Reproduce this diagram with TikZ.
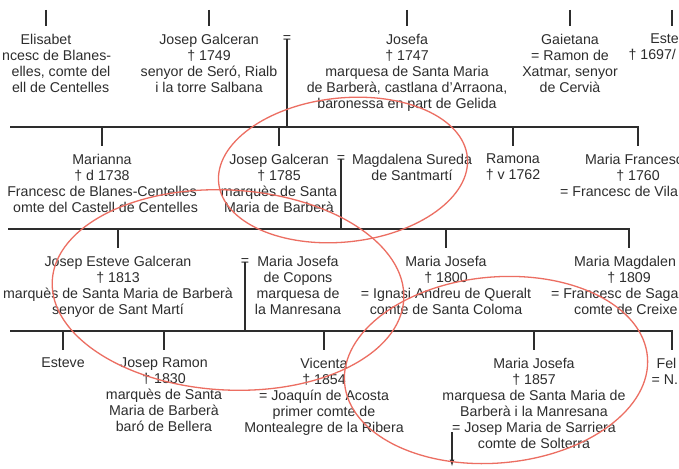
\documentclass[tikz,border=0pt]{standalone}
\usepackage{fontspec}
\setmainfont{Liberation Sans}
\definecolor{ink}{RGB}{45,45,45}
\definecolor{ringred}{RGB}{236,110,98}
\tikzset{
    x=1pt, y=-1pt, % pixel grid of the scan, y runs downwards
    person/.style={align=center, anchor=north, inner sep=0pt, text=ink, font=\fontsize{14.2}{16}\selectfont}, % one entry of the tree
    marr/.style={inner sep=0pt, outer sep=0pt, text=ink, font=\fontsize{14.2}{16}\selectfont}, % the = of a marriage
    line/.style={draw=ink, line width=1.2pt},
    tick/.style={line, shorten >=8pt}, % drop from a row line to a child
    wed/.style={line, shorten <=-3pt}, % line hanging from a marriage sign
    ring/.style={draw=ringred, line width=1.3pt}, % red marks drawn over the page
    }

\begin{document}
\begin{tikzpicture}
    \path[fill=white, use as bounding box] (0,0) rectangle (679,468);

    % row lines
    \coordinate (l1) at (0,10);
    \coordinate (l2) at (10,127);
    \coordinate (l3) at (8,229);
    \coordinate (l4) at (10,331);

    % first row
    \node[person] (elisabet) at (46,34) {Elisabet\\\phantom{Fra}ncesc de Blanes-\\\phantom{Cent}elles, comte del\\\phantom{Cast}ell de Centelles};
    \node[person] (josepA) at (209,34) {Josep Galceran\\† 1749\\senyor de Seró, Rialb\\i la torre Salbana};
    \node[marr] (marrA) at (287,39) {=};
    \node[person] (josefa) at (407,34) {Josefa\\† 1747\\marquesa de Santa Maria\\de Barberà, castlana d’Arraona,\\baronessa en part de Gelida};
    \node[person] (gaietana) at (570,34) {Gaietana\\= Ramon de\\Xatmar, senyor\\de Cervià};
    \node[person] (esteveA) at (672,34) {Este\phantom{ve}\\† 1697/\phantom{17000}};

    \draw[tick] (elisabet |- l1) -- (elisabet);
    \draw[tick] (josepA |- l1) -- (josepA);
    \draw[tick] (josefa |- l1) -- (josefa);
    \draw[tick] (gaietana |- l1) -- (gaietana);
    \draw[tick] (esteveA |- l1) -- (esteveA);

    % second row
    \node[person] (marianna) at (102,154) {Marianna\\† d 1738\\Francesc de Blanes-Centelles\\\phantom{c}omte del Castell de Centelles};
    \node[person] (josepB) at (279,154) {Josep Galceran\\† 1785\\marquès de Santa\\Maria de Barberà};
    \node[marr] (marrB) at (341,159) {=};
    \node[person] (magdalena) at (412,154) {Magdalena Sureda\\de Santmartí};
    \node[person] (ramona) at (513,154) {Ramona\\† v 1762};
    \node[person] (francesca) at (638,154) {Maria Francesc\phantom{a}\\† 1760\\= Francesc de Vila\phantom{llonga}};

    \draw[wed] (marrA) -- (marrA |- l2);
    \draw[tick] (l2) -| (francesca);
    \draw[tick] (marianna |- l2) -- (marianna);
    \draw[tick] (josepB |- l2) -- (josepB);
    \draw[tick] (ramona |- l2) -- (ramona);

    % third row
    \node[person] (josepC) at (118,256) {Josep Esteve Galceran\\† 1813\\marquès de Santa Maria de Barberà\\senyor de Sant Martí};
    \node[marr] (marrC) at (245,262) {=};
    \node[person] (copons) at (298,256) {Maria Josefa\\de Copons\\marquesa de\\la Manresana};
    \node[person] (josefaC) at (446,256) {Maria Josefa\\† 1800\\= Ignasi Andreu de Queralt\\comte de Santa Coloma};
    \node[person] (magdalenaC) at (629,256) {Maria Magdalen\phantom{a}\\† 1809\\= Francesc de Saga\phantom{rriga}\\comte de Creixe\phantom{ll}};

    \draw[wed] (marrB) -- (marrB |- l3);
    \draw[tick] (l3) -| (magdalenaC);
    \draw[tick] (josepC |- l3) -- (josepC);
    \draw[tick] (josefaC |- l3) -- (josefaC);

    % fourth row
    \node[person] (esteve) at (63,358) {Esteve};
    \node[person] (josepD) at (164,358) {Josep Ramon\\† 1830\\marquès de Santa\\Maria de Barberà\\baró de Bellera};
    \node[person] (vicenta) at (324,358) {Vicenta\\† 1854\\= Joaquín de Acosta\\primer comte de\\Montealegre de la Ribera};
    \node[person] (josefaD) at (534,358) {Maria Josefa\\† 1857\\marquesa de Santa Maria de\\Barberà i la Manresana\\= Josep Maria de Sarriera\\comte de Solterra};
    \node[person] (felip) at (672,358) {Fel\phantom{ip}\\= N.N\phantom{.}};

    \draw[wed] (marrC) -- (marrC |- l4);
    \draw[tick] (l4) -| (felip);
    \draw[tick] (esteve |- l4) -- (esteve);
    \draw[tick] (josepD |- l4) -- (josepD);
    \draw[tick] (vicenta |- l4) -- (vicenta);
    \draw[tick] (josefaD |- l4) -- (josefaD);

    \coordinate (wedD) at (452,432);
    \coordinate (onward) at (452,466);
    \draw[line, -latex] (wedD) -- (onward);

    % red rings
    \draw[ring, rotate around={6:(343,170)}] (343,170) ellipse [x radius=125, y radius=72];
    \draw[ring, rotate around={-3:(228,290)}] (228,290) ellipse [x radius=176, y radius=100];
    \draw[ring, rotate around={5:(496,370)}] (496,370) ellipse [x radius=152, y radius=93];
\end{tikzpicture}
\end{document}
